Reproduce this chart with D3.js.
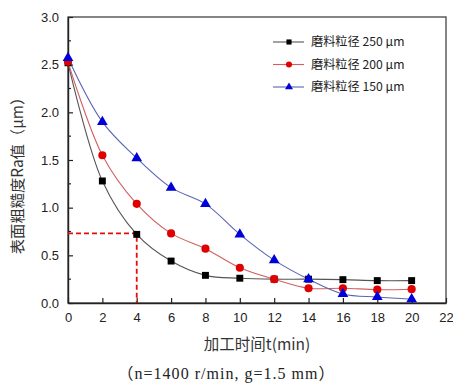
<!DOCTYPE html>
<html>
<head>
<meta charset="utf-8">
<script src="https://cdn.jsdelivr.net/npm/d3@7"></script>
<style>
  html, body { margin: 0; padding: 0; background: #fff; }
  svg { display: block; }
</style>
</head>
<body>
<div id="chart"></div>
<script>
// ─── Data ───────────────────────────────────────────────────────
const times = [0, 2, 4, 6, 8, 10, 12, 14, 16, 18, 20];
const ra250 = [2.52, 1.28, 0.72, 0.44, 0.29, 0.26, 0.25, 0.25, 0.245, 0.235, 0.235];
const ra200 = [2.53, 1.55, 1.04, 0.73, 0.57, 0.37, 0.25, 0.155, 0.155, 0.14, 0.145];
const ra150 = [2.57, 1.90, 1.52, 1.21, 1.04, 0.72, 0.45, 0.25, 0.095, 0.063, 0.04];
const seriesNames = ['磨料粒径 250 μm', '磨料粒径 200 μm', '磨料粒径 150 μm'];
const xTicks = [0, 2, 4, 6, 8, 10, 12, 14, 16, 18, 20, 22];
const yTicks = [0, 0.5, 1.0, 1.5, 2.0, 2.5, 3.0];
const refPoint = { t: 4, v: 0.73 };

const series = [
    { name: seriesNames[0], values: ra250, line: '#555', fill: '#000', symbol: d3.symbolSquare, size: 48 },
    { name: seriesNames[1], values: ra200, line: '#d06060', fill: '#e00000', symbol: d3.symbolCircle, size: 52 },
    { name: seriesNames[2], values: ra150, line: '#5a64b4', fill: '#0000d8', symbol: d3.symbolTriangle, size: 50 },
];

// ─── Layout ─────────────────────────────────────────────────────
const W = 453, H = 389;
const margin = { left: 68, top: 17, right: 7, bottom: 86 };
const plotW = W - margin.left - margin.right;
const plotH = H - margin.top - margin.bottom;

const x = d3.scaleLinear().domain([0, 22]).range([0, plotW]);
const y = d3.scaleLinear().domain([0, 3]).range([plotH, 0]);

const svg = d3.select('#chart').append('svg')
    .attr('width', W).attr('height', H);

const g = svg.append('g')
    .attr('transform', `translate(${margin.left},${margin.top})`);

const tickFont = '"Liberation Sans", Arial, sans-serif';
const cjkFont = '"Noto Sans CJK SC", "Liberation Sans", sans-serif';

// plot frame
g.append('rect')
    .attr('x', x(0)).attr('y', y(3))
    .attr('width', x(22) - x(0)).attr('height', y(0) - y(3))
    .attr('fill', 'none').attr('stroke', '#444').attr('stroke-width', 1.3);

// x axis (inward ticks)
const xAxis = g.append('g')
    .attr('transform', `translate(0,${plotH})`)
    .call(d3.axisBottom(x).tickValues(xTicks).tickSizeInner(-5).tickSizeOuter(0).tickPadding(10)
        .tickFormat(d3.format('d')));
xAxis.select('.domain').attr('stroke', '#222').attr('stroke-width', 1.4);
xAxis.selectAll('.tick line').attr('stroke', '#222').attr('stroke-width', 1.2);
xAxis.selectAll('text').attr('font-family', tickFont).attr('font-size', 13).attr('fill', '#222');

// y axis minor ticks
const yMinor = d3.range(0, 3.01, 0.25).filter(v => Math.abs(v * 2 - Math.round(v * 2)) > 0.01);
g.append('g').selectAll('line')
    .data(yMinor)
    .join('line')
    .attr('x1', 0).attr('x2', 3)
    .attr('y1', d => y(d)).attr('y2', d => y(d))
    .attr('stroke', '#222').attr('stroke-width', 1.2);

const yAxis = g.append('g')
    .call(d3.axisLeft(y).tickValues(yTicks).tickSizeInner(-5).tickSizeOuter(0).tickPadding(9)
        .tickFormat(d3.format('.1f')));
yAxis.select('.domain').attr('stroke', '#222').attr('stroke-width', 1.4);
yAxis.selectAll('.tick line').attr('stroke', '#222').attr('stroke-width', 1.2);
yAxis.selectAll('text').attr('font-family', tickFont).attr('font-size', 13).attr('fill', '#222');

// red dashed reference lines
g.append('path')
    .attr('d', `M0,${y(refPoint.v)}H${x(refPoint.t)}V${plotH}`)
    .attr('fill', 'none').attr('stroke', '#e01010')
    .attr('stroke-width', 1.8).attr('stroke-dasharray', '5,3');

// ─── Series ─────────────────────────────────────────────────────
const line = d3.line()
    .x((d, i) => x(times[i]))
    .y(d => y(d))
    .curve(d3.curveCatmullRom.alpha(0.5));

series.forEach(s => {
    g.append('path')
        .datum(s.values)
        .attr('d', line)
        .attr('fill', 'none')
        .attr('stroke', s.line)
        .attr('stroke-width', 1.1);
});

series.forEach(s => {
    g.append('g').selectAll('path')
        .data(s.values)
        .join('path')
        .attr('transform', (d, i) => `translate(${x(times[i])},${y(d)})`)
        .attr('d', d3.symbol().type(s.symbol).size(s.size))
        .attr('fill', s.fill);
});

// ─── Legend ─────────────────────────────────────────────────────
const legend = g.append('g')
    .attr('transform', `translate(${273 - margin.left},${42 - margin.top})`);

series.forEach((s, i) => {
    const row = legend.append('g').attr('transform', `translate(0,${i * 22.5})`);
    row.append('line')
        .attr('x1', 0).attr('x2', 31).attr('y1', 0).attr('y2', 0)
        .attr('stroke', s.line).attr('stroke-width', 1.1);
    row.append('path')
        .attr('transform', 'translate(16,0)')
        .attr('d', d3.symbol().type(s.symbol).size(s.size * 0.55))
        .attr('fill', s.fill);
    row.append('text')
        .attr('x', 38).attr('y', 0).attr('dy', '0.35em')
        .attr('font-family', cjkFont).attr('font-size', 12.2).attr('fill', '#222')
        .text(s.name);
});

// ─── Axis titles & caption ──────────────────────────────────────
svg.append('text')
    .attr('transform', 'translate(18,172) rotate(-90)')
    .attr('text-anchor', 'middle').attr('dy', '0.35em')
    .attr('font-family', cjkFont).attr('font-size', 15.3).attr('fill', '#333')
    .text('表面粗糙度Ra值（μm）');

svg.append('text')
    .attr('x', 257).attr('y', 345).attr('dy', '0.35em')
    .attr('text-anchor', 'middle')
    .attr('font-family', cjkFont).attr('font-size', 15.5).attr('fill', '#333')
    .text('加工时间t(min)');

svg.append('text')
    .attr('x', 226).attr('y', 373).attr('dy', '0.35em')
    .attr('text-anchor', 'middle')
    .attr('textLength', 217).attr('lengthAdjust', 'spacing')
    .attr('font-family', '"Liberation Serif", "Noto Sans CJK SC", serif').attr('font-size', 16).attr('fill', '#222')
    .text('（n=1400 r/min, g=1.5 mm）');
</script>
</body>
</html>
